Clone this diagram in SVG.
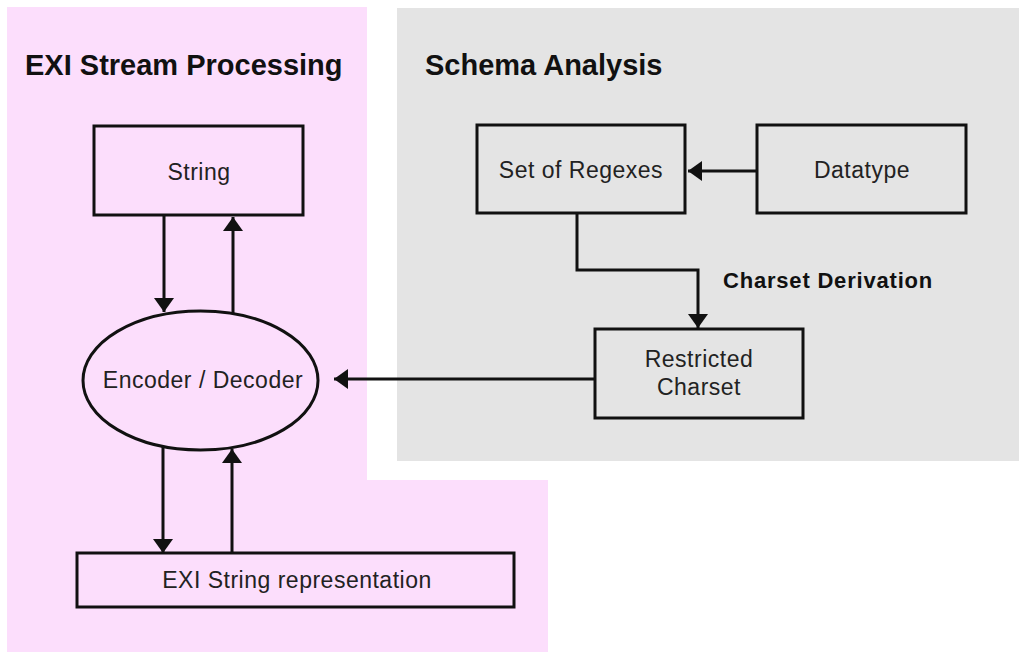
<svg xmlns="http://www.w3.org/2000/svg" width="1019" height="658" viewBox="0 0 1019 658">
<style>
.node{fill:none;stroke:#111;stroke-width:3}
.lbl{font-family:"Liberation Sans",Arial,sans-serif;font-size:23px;fill:#222;letter-spacing:0.5px;text-anchor:middle}
.title{font-family:"Liberation Sans",Arial,sans-serif;font-size:29px;font-weight:bold;fill:#111}
.edge{fill:none;stroke:#111;stroke-width:3}
.elbl{font-family:"Liberation Sans",Arial,sans-serif;font-size:22px;font-weight:bold;fill:#111;letter-spacing:0.8px}
</style>
<defs>
<marker id="arr" viewBox="0 0 14 20" markerWidth="14" markerHeight="20" refX="14" refY="10" orient="auto" markerUnits="userSpaceOnUse">
<path d="M0,0 L14,10 L0,20 z" fill="#111"/>
</marker>
</defs>
<rect width="1019" height="658" fill="#fff"/>
<g id="region-exi">
<path d="M7,7 H367 V480 H548 V652 H7 Z" fill="#fcdefc"/>
<text class="title" x="25" y="75">EXI Stream Processing</text>
</g>
<g id="region-schema">
<rect x="397" y="8" width="622" height="453" fill="#e4e4e4"/>
<text class="title" x="425" y="75">Schema Analysis</text>
</g>
<g id="node-string">
<rect class="node" x="94" y="126" width="209" height="89"/>
<text class="lbl" x="199" y="180">String</text>
</g>
<g id="node-encoder">
<ellipse class="node" cx="200.5" cy="380.5" rx="117.5" ry="69.5"/>
<text class="lbl" x="203" y="388">Encoder / Decoder</text>
</g>
<g id="node-exi">
<rect class="node" x="77" y="553" width="437" height="54"/>
<text class="lbl" x="297" y="588">EXI String representation</text>
</g>
<g id="node-regexes">
<rect class="node" x="477" y="125" width="208" height="88"/>
<text class="lbl" x="581" y="178">Set of Regexes</text>
</g>
<g id="node-datatype">
<rect class="node" x="757" y="125" width="209" height="88"/>
<text class="lbl" x="862" y="178">Datatype</text>
</g>
<g id="node-charset">
<rect class="node" x="595" y="329" width="208" height="89"/>
<text class="lbl" x="699" y="367">Restricted</text>
<text class="lbl" x="699" y="395">Charset</text>
</g>
<g id="connectors">
<line class="edge" x1="164" y1="215" x2="164" y2="312" marker-end="url(#arr)"/>
<line class="edge" x1="233" y1="314" x2="233" y2="217" marker-end="url(#arr)"/>
<line class="edge" x1="163" y1="446" x2="163" y2="553" marker-end="url(#arr)"/>
<line class="edge" x1="232" y1="553" x2="232" y2="449" marker-end="url(#arr)"/>
<line class="edge" x1="757" y1="171" x2="688" y2="171" marker-end="url(#arr)"/>
<path class="edge" d="M577,213 V270 H698 V328" marker-end="url(#arr)"/>
<line class="edge" x1="595" y1="379" x2="334" y2="379" marker-end="url(#arr)"/>
<text class="elbl" x="723" y="288">Charset Derivation</text>
</g>
</svg>
